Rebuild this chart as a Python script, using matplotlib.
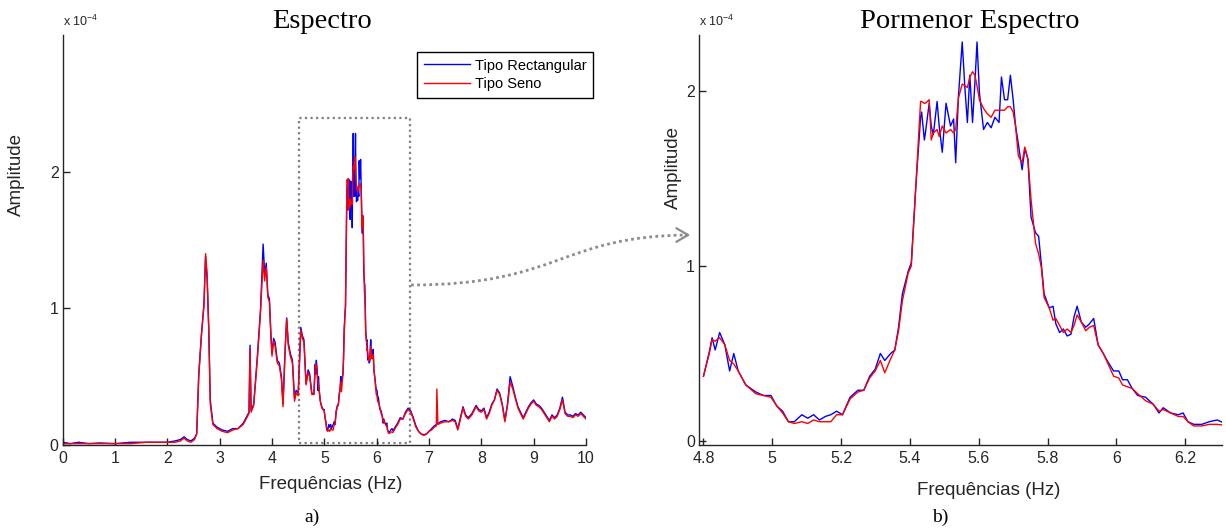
import matplotlib
matplotlib.use("Agg")
import matplotlib.pyplot as plt
from matplotlib.patches import Rectangle, PathPatch
from matplotlib.path import Path
import numpy as np

# amplitudes in units of 1e-4
# low band 0 - 4.8 Hz (only on the full spectrum)
freq_low = [0.0, 0.15, 0.3, 0.5, 0.7, 1.0, 1.3, 1.6, 1.8, 2.0, 2.15, 2.25, 2.32, 2.38, 2.45, 2.52,
            2.56, 2.6, 2.65, 2.7, 2.73, 2.76, 2.79, 2.82, 2.87, 2.95, 3.05, 3.15, 3.25, 3.35, 3.45,
            3.52, 3.56, 3.58, 3.6, 3.65, 3.72, 3.78, 3.83, 3.86, 3.89, 3.92, 3.95, 3.98, 4.0, 4.03,
            4.06, 4.1, 4.14, 4.18, 4.21, 4.25, 4.28, 4.31, 4.35, 4.39, 4.43, 4.46, 4.5, 4.55, 4.58,
            4.61, 4.65, 4.69, 4.72, 4.76]
rect_low = [0.02, 0.01, 0.02, 0.01, 0.015, 0.01, 0.02, 0.02, 0.02, 0.02, 0.03, 0.04, 0.06, 0.04,
            0.03, 0.05, 0.08, 0.52, 0.80, 1.04, 1.38, 1.21, 0.87, 0.33, 0.16, 0.13, 0.11, 0.10,
            0.12, 0.12, 0.16, 0.21, 0.24, 0.73, 0.25, 0.30, 0.65, 0.99, 1.47, 1.25, 1.33, 1.10,
            1.07, 0.80, 0.67, 0.78, 0.75, 0.62, 0.60, 0.50, 0.30, 0.70, 0.93, 0.75, 0.67, 0.62,
            0.34, 0.40, 0.38, 0.86, 0.80, 0.77, 0.45, 0.55, 0.52, 0.38]
seno_low = [0.01, 0.01, 0.01, 0.01, 0.01, 0.01, 0.01, 0.02, 0.02, 0.02, 0.02, 0.03, 0.05, 0.03,
            0.02, 0.04, 0.08, 0.50, 0.80, 1.02, 1.40, 1.25, 0.85, 0.30, 0.15, 0.12, 0.10, 0.09,
            0.11, 0.12, 0.15, 0.20, 0.23, 0.70, 0.24, 0.29, 0.63, 0.97, 1.35, 1.20, 1.30, 1.08,
            1.05, 0.78, 0.65, 0.76, 0.72, 0.60, 0.58, 0.48, 0.28, 0.68, 0.92, 0.73, 0.65, 0.60,
            0.32, 0.38, 0.36, 0.84, 0.78, 0.75, 0.44, 0.53, 0.50, 0.37]

# detail band 4.8 - 6.31 Hz (both panels)
freq_detail = [4.800, 4.817, 4.825, 4.834, 4.847, 4.862, 4.876, 4.888, 4.901, 4.923, 4.952, 4.974,
               4.996, 5.013, 5.030, 5.047, 5.064, 5.086, 5.103, 5.120, 5.137, 5.154, 5.170, 5.187,
               5.204, 5.226, 5.249, 5.266, 5.283, 5.299, 5.314, 5.327, 5.344, 5.356, 5.367, 5.378,
               5.395, 5.404, 5.417, 5.431, 5.434, 5.442, 5.445, 5.456, 5.462, 5.468, 5.479, 5.485,
               5.494, 5.505, 5.518, 5.527, 5.533, 5.541, 5.552, 5.560, 5.567, 5.574, 5.582, 5.589,
               5.595, 5.602, 5.614, 5.625, 5.636, 5.647, 5.659, 5.666, 5.675, 5.684, 5.692, 5.700,
               5.707, 5.715, 5.726, 5.734, 5.743, 5.752, 5.765, 5.774, 5.782, 5.790, 5.805, 5.816,
               5.824, 5.835, 5.846, 5.857, 5.868, 5.877, 5.886, 5.898, 5.911, 5.922, 5.934, 5.947,
               5.962, 5.976, 5.992, 6.007, 6.018, 6.032, 6.046, 6.062, 6.085, 6.107, 6.124, 6.136,
               6.158, 6.180, 6.194, 6.208, 6.225, 6.248, 6.270, 6.293, 6.310]
rect_detail = [0.37, 0.51, 0.59, 0.52, 0.62, 0.55, 0.40, 0.50, 0.40, 0.32, 0.28, 0.26,
               0.26, 0.20, 0.17, 0.11, 0.11, 0.15, 0.13, 0.15, 0.12, 0.14, 0.15, 0.17,
               0.15, 0.25, 0.29, 0.29, 0.37, 0.41, 0.50, 0.46, 0.50, 0.52, 0.65, 0.84,
               0.97, 1.02, 1.45, 1.85, 1.88, 1.72, 1.76, 1.93, 1.80, 1.75, 1.94, 1.80,
               1.65, 1.93, 1.80, 1.84, 1.59, 1.97, 2.28, 2.01, 1.82, 2.09, 1.82, 2.05,
               2.28, 1.99, 1.78, 1.82, 1.79, 1.85, 1.82, 2.08, 1.95, 1.95, 2.09, 1.95,
               1.80, 1.70, 1.55, 1.67, 1.61, 1.28, 1.19, 1.17, 1.01, 0.84, 0.76, 0.77,
               0.67, 0.62, 0.64, 0.60, 0.61, 0.71, 0.77, 0.68, 0.65, 0.67, 0.70, 0.55,
               0.50, 0.45, 0.40, 0.40, 0.35, 0.35, 0.30, 0.26, 0.25, 0.21, 0.16, 0.19,
               0.16, 0.15, 0.16, 0.11, 0.095, 0.095, 0.11, 0.12, 0.105]
seno_detail = [0.37, 0.50, 0.58, 0.57, 0.59, 0.55, 0.46, 0.44, 0.40, 0.32, 0.27, 0.26,
               0.25, 0.20, 0.16, 0.11, 0.10, 0.11, 0.10, 0.12, 0.11, 0.11, 0.11, 0.15,
               0.15, 0.24, 0.28, 0.29, 0.36, 0.40, 0.46, 0.39, 0.47, 0.52, 0.63, 0.80,
               0.96, 1.00, 1.45, 1.94, 1.94, 1.93, 1.93, 1.95, 1.72, 1.76, 1.78, 1.74,
               1.80, 1.76, 1.78, 1.76, 1.78, 1.96, 2.04, 2.03, 2.02, 2.08, 2.11, 2.09,
               2.03, 1.95, 1.90, 1.87, 1.85, 1.89, 1.89, 1.89, 1.89, 1.91, 1.91, 1.88,
               1.80, 1.63, 1.59, 1.68, 1.61, 1.38, 1.13, 1.07, 0.99, 0.82, 0.76, 0.69,
               0.70, 0.66, 0.62, 0.64, 0.62, 0.66, 0.72, 0.68, 0.63, 0.65, 0.66, 0.55,
               0.50, 0.44, 0.37, 0.36, 0.32, 0.31, 0.30, 0.27, 0.23, 0.21, 0.17, 0.18,
               0.16, 0.14, 0.14, 0.11, 0.086, 0.086, 0.095, 0.095, 0.091]

# high band 6.31 - 10 Hz (only on the full spectrum)
freq_high = [6.35, 6.4, 6.45, 6.5, 6.55, 6.6, 6.65, 6.7, 6.75, 6.8, 6.85, 6.9, 6.95, 7.0, 7.05,
             7.1, 7.14, 7.15, 7.17, 7.22, 7.3, 7.38, 7.45, 7.5, 7.55, 7.6, 7.65, 7.7, 7.75, 7.82,
             7.9, 7.95, 8.0, 8.05, 8.1, 8.15, 8.2, 8.25, 8.3, 8.35, 8.4, 8.45, 8.5, 8.55, 8.6,
             8.65, 8.7, 8.75, 8.8, 8.85, 8.9, 8.95, 9.0, 9.05, 9.1, 9.15, 9.2, 9.25, 9.3, 9.35,
             9.4, 9.45, 9.5, 9.55, 9.6, 9.65, 9.7, 9.75, 9.8, 9.85, 9.9, 9.95, 10.0]
rect_high = [0.13, 0.16, 0.20, 0.19, 0.24, 0.27, 0.25, 0.20, 0.14, 0.10, 0.08, 0.076, 0.08, 0.10,
             0.12, 0.14, 0.15, 0.16, 0.155, 0.17, 0.18, 0.17, 0.19, 0.18, 0.12, 0.20, 0.28, 0.22,
             0.20, 0.23, 0.29, 0.26, 0.25, 0.27, 0.20, 0.24, 0.30, 0.33, 0.41, 0.38, 0.30, 0.18,
             0.30, 0.50, 0.43, 0.35, 0.28, 0.24, 0.20, 0.24, 0.28, 0.31, 0.33, 0.30, 0.29, 0.27,
             0.24, 0.21, 0.18, 0.22, 0.20, 0.22, 0.27, 0.35, 0.24, 0.22, 0.22, 0.21, 0.23, 0.22,
             0.24, 0.22, 0.20]
seno_high = [0.12, 0.15, 0.19, 0.19, 0.23, 0.26, 0.24, 0.19, 0.13, 0.10, 0.08, 0.07, 0.08, 0.10,
             0.11, 0.13, 0.14, 0.41, 0.15, 0.16, 0.17, 0.17, 0.18, 0.17, 0.11, 0.19, 0.27, 0.21,
             0.19, 0.22, 0.28, 0.25, 0.24, 0.26, 0.19, 0.23, 0.29, 0.33, 0.40, 0.37, 0.29, 0.17,
             0.29, 0.46, 0.41, 0.34, 0.27, 0.23, 0.19, 0.23, 0.27, 0.30, 0.32, 0.29, 0.28, 0.26,
             0.23, 0.20, 0.17, 0.21, 0.19, 0.21, 0.26, 0.33, 0.23, 0.21, 0.21, 0.20, 0.22, 0.21,
             0.23, 0.21, 0.19]

W, H = 1226, 531
SANS = "Liberation Sans"
SERIF = "Liberation Serif"
AX_COL = "#262626"

plt.rcParams['font.family'] = SANS

fig = plt.figure(figsize=(W / 100, H / 100), dpi=100)


def px(x, y):
    # pixel position (from top-left) -> figure fraction
    return x / W, 1 - y / H


def style_axes(ax):
    for s in ("top", "right"):
        ax.spines[s].set_visible(False)
    for s in ("left", "bottom"):
        ax.spines[s].set_color(AX_COL)
        ax.spines[s].set_linewidth(1.0)
    ax.tick_params(direction="in", length=5, width=1.0, color=AX_COL,
                   labelsize=11.5, labelcolor=AX_COL)
    ax.tick_params(axis="x", pad=4)
    ax.tick_params(axis="y", pad=3)


# ---- left: full spectrum
ax1 = fig.add_axes([62.7 / W, 86 / H, 523.3 / W, 410 / H])
f_all = freq_low + freq_detail + freq_high
r_all = rect_low + rect_detail + rect_high
s_all = seno_low + seno_detail + seno_high
ax1.plot(f_all, r_all, color="#0000ff", lw=1.0, label="Tipo Rectangular")
ax1.plot(f_all, s_all, color="#ff0000", lw=1.0, label="Tipo Seno")
ax1.set_xlim(0, 10)
ax1.set_ylim(0, 3.0)
ax1.set_xticks(range(0, 11))
ax1.set_yticks([0, 1, 2])
style_axes(ax1)
ax1.set_xlabel("Frequências (Hz)", fontsize=13.5, color=AX_COL)
ax1.xaxis.set_label_coords(0.513, -0.075)
ax1.set_ylabel("Amplitude", fontsize=13.5, color=AX_COL)
ax1.yaxis.set_label_coords(-0.073, 0.659)

# zoom window
ax1.add_patch(Rectangle((4.52, 0.017), 6.64 - 4.52, 2.39 - 0.017, fill=False,
                        edgecolor="#7f7f7f", lw=1.6, ls=(0, (1, 1.5)), clip_on=False))

leg = ax1.legend(loc="upper right", bbox_to_anchor=px(593, 52), bbox_transform=fig.transFigure,
                 borderaxespad=0, fontsize=10.5, handlelength=3.2, handletextpad=0.3,
                 labelspacing=0.3, borderpad=0.45, fancybox=False, framealpha=1)
leg.get_frame().set_edgecolor("black")
leg.get_frame().set_linewidth(1.0)

# ---- right: detail
ax2 = fig.add_axes([699 / W, 86 / H, 523 / W, 410 / H])
ax2.plot(freq_detail, rect_detail, color="#0000ff", lw=1.0)
ax2.plot(freq_detail, seno_detail, color="#ff0000", lw=1.0)
ax2.set_xlim(4.787, 6.307)
ax2.set_ylim(-0.023, 2.32)
ax2.set_xticks([4.8, 5.0, 5.2, 5.4, 5.6, 5.8, 6.0, 6.2])
ax2.set_xticklabels(["4.8", "5", "5.2", "5.4", "5.6", "5.8", "6", "6.2"])
ax2.set_yticks([0, 1, 2])
style_axes(ax2)
ax2.set_xlabel("Frequências (Hz)", fontsize=13.5, color=AX_COL)
ax2.xaxis.set_label_coords(0.554, -0.09)
ax2.set_ylabel("Amplitude", fontsize=13.5, color=AX_COL)
ax2.yaxis.set_label_coords(-0.033, 0.678)

# exponent labels
for x0 in (63, 699):
    fig.text(*px(x0, 26), r"x 10$^{\mathregular{-4}}$", fontsize=9, color=AX_COL,
             ha="left", va="baseline")

# titles and captions
fig.text(*px(322, 28), "Espectro", fontfamily=SERIF, fontsize=20.5, ha="center", va="baseline")
fig.text(*px(970, 28), "Pormenor Espectro", fontfamily=SERIF, fontsize=20.5, ha="center",
         va="baseline")
fig.text(*px(312, 522), "a)", fontfamily=SERIF, fontsize=14, ha="center", va="baseline")
fig.text(*px(940, 522), "b)", fontfamily=SERIF, fontsize=14, ha="center", va="baseline")

# dotted connector arrow
p0, c1, c2, p3 = px(411, 285), px(560, 285), px(560, 236), px(688, 235)
curve = Path([p0, c1, c2, p3], [Path.MOVETO, Path.CURVE4, Path.CURVE4, Path.CURVE4])
fig.add_artist(PathPatch(curve, transform=fig.transFigure, fill=False, edgecolor="#8c8c8c",
                         lw=2.0, ls=(0, (1, 1.2))))
fig.add_artist(matplotlib.patches.FancyArrowPatch(px(683, 235), px(693, 235),
                                                  transform=fig.transFigure,
                                                  arrowstyle="->,head_length=0.6,head_width=0.35",
                                                  mutation_scale=14, color="#8c8c8c", lw=1.6))

fig.savefig("out.png", dpi=100)
